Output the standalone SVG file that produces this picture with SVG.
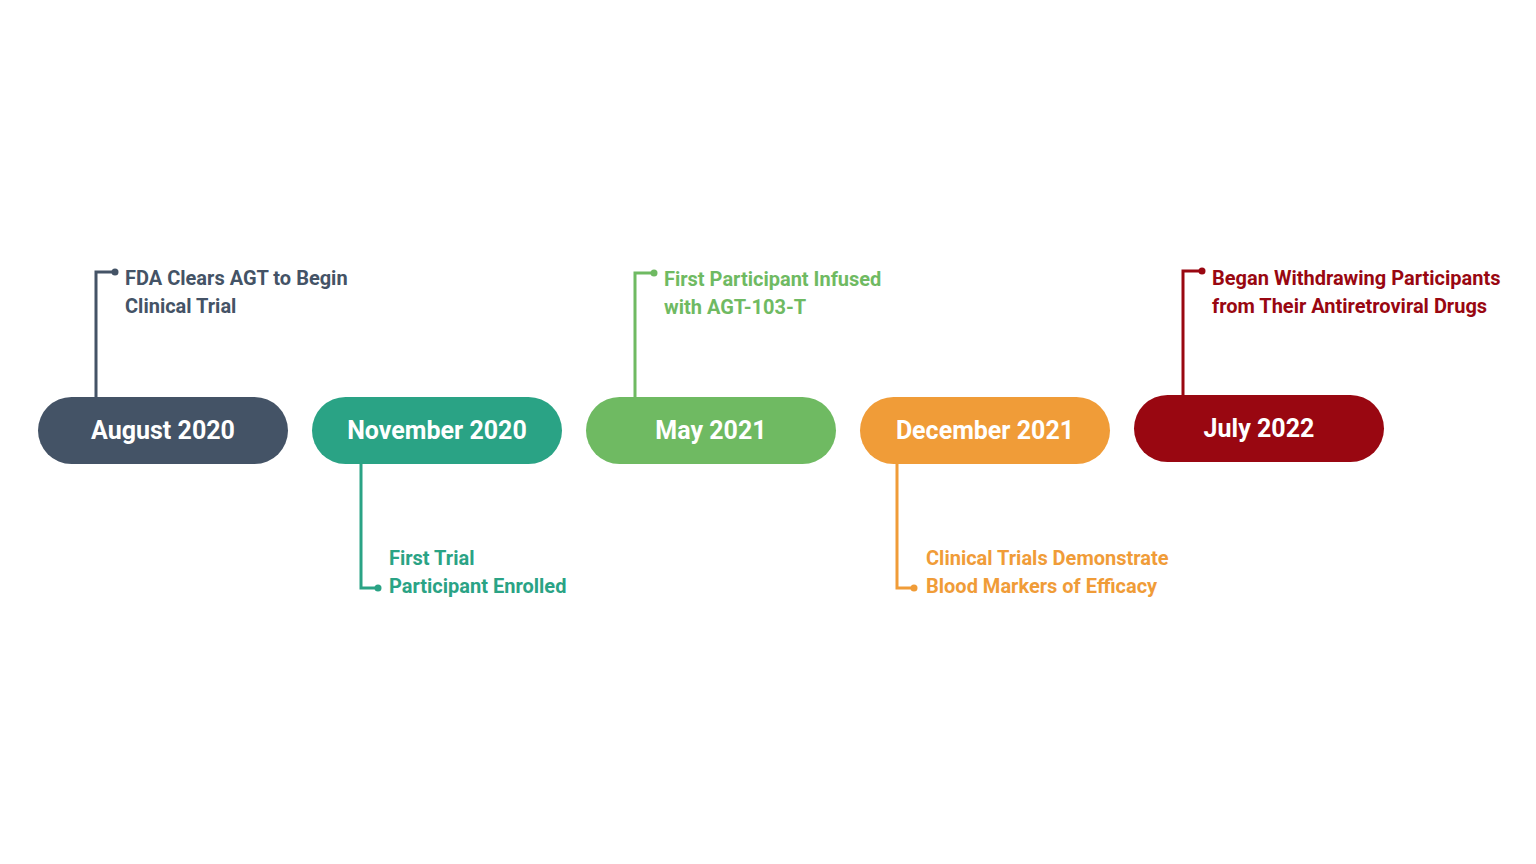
<svg xmlns="http://www.w3.org/2000/svg" width="1536" height="864" viewBox="0 0 1536 864">
<style>
.pill{stroke:none}
.date{font-family:Roboto,"Liberation Sans",sans-serif;font-weight:700;font-size:25px;fill:#ffffff;text-anchor:middle}
.lbl{font-family:Roboto,"Liberation Sans",sans-serif;font-weight:700;font-size:20px}
.ln{fill:none;stroke-width:3}
</style>
<rect width="1536" height="864" fill="#ffffff"/>
<g id="connectors">
<path class="ln" d="M96,397 V272 H115" stroke="#445366"/>
<circle cx="115" cy="272" r="3.5" fill="#445366"/>
<path class="ln" d="M361,464 V588 H378" stroke="#2aa385"/>
<circle cx="378" cy="588" r="3.5" fill="#2aa385"/>
<path class="ln" d="M635,397 V273 H654" stroke="#6fba62"/>
<circle cx="654" cy="273" r="3.5" fill="#6fba62"/>
<path class="ln" d="M897,464 V588 H914" stroke="#f09c38"/>
<circle cx="914" cy="588" r="3.5" fill="#f09c38"/>
<path class="ln" d="M1183,395 V271 H1202" stroke="#990711"/>
<circle cx="1202" cy="271" r="3.5" fill="#990711"/>
</g>
<g id="n1">
<rect class="pill" x="38" y="397" width="250" height="67" rx="33.5" fill="#445366"/>
<text class="date" x="163" y="439">August 2020</text>
<text class="lbl" fill="#445366" x="125" y="285">FDA Clears AGT to Begin</text>
<text class="lbl" fill="#445366" x="125" y="313">Clinical Trial</text>
</g>
<g id="n2">
<rect class="pill" x="312" y="397" width="250" height="67" rx="33.5" fill="#2aa385"/>
<text class="date" x="437" y="439">November 2020</text>
<text class="lbl" fill="#2aa385" x="389" y="565">First Trial</text>
<text class="lbl" fill="#2aa385" x="389" y="593">Participant Enrolled</text>
</g>
<g id="n3">
<rect class="pill" x="586" y="397" width="250" height="67" rx="33.5" fill="#6fba62"/>
<text class="date" x="711" y="439">May 2021</text>
<text class="lbl" fill="#6fba62" x="664" y="286">First Participant Infused</text>
<text class="lbl" fill="#6fba62" x="664" y="314">with AGT-103-T</text>
</g>
<g id="n4">
<rect class="pill" x="860" y="397" width="250" height="67" rx="33.5" fill="#f09c38"/>
<text class="date" x="985" y="439">December 2021</text>
<text class="lbl" fill="#f09c38" x="926" y="565">Clinical Trials Demonstrate</text>
<text class="lbl" fill="#f09c38" x="926" y="593">Blood Markers of Efficacy</text>
</g>
<g id="n5">
<rect class="pill" x="1134" y="395" width="250" height="67" rx="33.5" fill="#990711"/>
<text class="date" x="1259" y="437">July 2022</text>
<text class="lbl" fill="#990711" x="1212" y="285">Began Withdrawing Participants</text>
<text class="lbl" fill="#990711" x="1212" y="313">from Their Antiretroviral Drugs</text>
</g>
</svg>
